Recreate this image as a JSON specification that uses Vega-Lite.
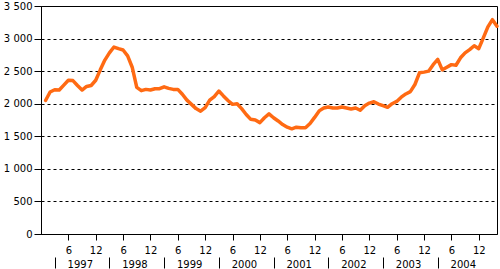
{
  "$schema": "https://vega.github.io/schema/vega-lite/v6.json",
  "width": 456,
  "height": 228,
  "autosize": {"type": "none"},
  "padding": {"left": 41, "top": 6, "right": 3, "bottom": 35},
  "background": "white",
  "config": {
    "view": {"stroke": "black", "strokeWidth": 1},
    "font": "DejaVu Sans",
    "axis": {"labelFont": "DejaVu Sans", "labelFontSize": 10, "labelColor": "black", "domainColor": "black", "tickColor": "black", "titleColor": "black"}
  },
  "data": {"values": [
    {"i":1,"v":2050},{"i":2,"v":2180},{"i":3,"v":2215},{"i":4,"v":2210},{"i":5,"v":2285},{"i":6,"v":2360},{"i":7,"v":2355},{"i":8,"v":2280},{"i":9,"v":2210},{"i":10,"v":2265},{"i":11,"v":2280},{"i":12,"v":2360},
    {"i":13,"v":2520},{"i":14,"v":2670},{"i":15,"v":2780},{"i":16,"v":2870},{"i":17,"v":2845},{"i":18,"v":2825},{"i":19,"v":2735},{"i":20,"v":2560},{"i":21,"v":2250},{"i":22,"v":2200},{"i":23,"v":2220},{"i":24,"v":2210},
    {"i":25,"v":2230},{"i":26,"v":2230},{"i":27,"v":2260},{"i":28,"v":2235},{"i":29,"v":2220},{"i":30,"v":2220},{"i":31,"v":2145},{"i":32,"v":2055},{"i":33,"v":1990},{"i":34,"v":1925},{"i":35,"v":1885},{"i":36,"v":1940},
    {"i":37,"v":2055},{"i":38,"v":2110},{"i":39,"v":2195},{"i":40,"v":2120},{"i":41,"v":2050},{"i":42,"v":1990},{"i":43,"v":2000},{"i":44,"v":1925},{"i":45,"v":1835},{"i":46,"v":1760},{"i":47,"v":1750},{"i":48,"v":1710},
    {"i":49,"v":1785},{"i":50,"v":1845},{"i":51,"v":1785},{"i":52,"v":1735},{"i":53,"v":1680},{"i":54,"v":1640},{"i":55,"v":1615},{"i":56,"v":1640},{"i":57,"v":1630},{"i":58,"v":1630},{"i":59,"v":1695},{"i":60,"v":1790},
    {"i":61,"v":1890},{"i":62,"v":1935},{"i":63,"v":1950},{"i":64,"v":1935},{"i":65,"v":1935},{"i":66,"v":1950},{"i":67,"v":1935},{"i":68,"v":1920},{"i":69,"v":1935},{"i":70,"v":1900},{"i":71,"v":1970},{"i":72,"v":2010},
    {"i":73,"v":2030},{"i":74,"v":1995},{"i":75,"v":1970},{"i":76,"v":1945},{"i":77,"v":2000},{"i":78,"v":2035},{"i":79,"v":2100},{"i":80,"v":2150},{"i":81,"v":2185},{"i":82,"v":2295},{"i":83,"v":2475},{"i":84,"v":2485},
    {"i":85,"v":2500},{"i":86,"v":2600},{"i":87,"v":2680},{"i":88,"v":2520},{"i":89,"v":2560},{"i":90,"v":2600},{"i":91,"v":2590},{"i":92,"v":2705},{"i":93,"v":2780},{"i":94,"v":2830},{"i":95,"v":2890},{"i":96,"v":2845},
    {"i":97,"v":3010},{"i":98,"v":3180},{"i":99,"v":3290},{"i":100,"v":3190}
  ]},
  "layer": [
    {
      "mark": {"type": "line", "color": "#FF6A13", "strokeWidth": 3.5, "strokeJoin": "round", "strokeCap": "round"},
      "encoding": {
        "x": {"field": "i", "type": "quantitative", "scale": {"domain": [0, 100], "nice": false, "zero": false},
          "axis": {"orient": "bottom", "title": null, "values": [6,12,18,24,30,36,42,48,54,60,66,72,78,84,90,96],
            "labelExpr": "datum.value % 12 == 0 ? '12' : '6'", "tickSize": 6, "labelPadding": 5, "grid": false, "labelFlush": false, "labelOverlap": false}},
        "y": {"field": "v", "type": "quantitative", "scale": {"domain": [0, 3500], "nice": false},
          "axis": {"title": null, "values": [0,500,1000,1500,2000,2500,3000,3500], "tickSize": 7, "labelPadding": 2,
            "labelExpr": "replace(format(datum.value, ','), ',', ' ')", "grid": true, "gridColor": "black", "gridDash": [3, 3], "gridWidth": 1, "gridOpacity": 1}}
      }
    },
    {
      "mark": {"type": "point", "opacity": 0},
      "encoding": {
        "x": {"field": "i", "type": "quantitative",
          "axis": {"orient": "bottom", "title": null, "values": [8.5,20.5,32.5,44.5,56.5,68.5,80.5,92.5],
            "labelExpr": "'' + (1997 + floor(datum.value / 12))", "ticks": false, "tickSize": 0, "domain": false, "grid": false,
            "offset": 23, "labelPadding": 2, "labelFlush": false, "labelOverlap": false}}
      }
    },
    {
      "mark": {"type": "point", "opacity": 0},
      "encoding": {
        "x": {"field": "i", "type": "quantitative",
          "axis": {"orient": "bottom", "title": null, "values": [3,15,27,39,51,63,75,87],
            "labels": false, "ticks": true, "tickSize": 11, "tickWidth": 1, "domain": false, "grid": false, "offset": 23}}
      }
    }
  ],
  "resolve": {"axis": {"x": "independent"}}
}
